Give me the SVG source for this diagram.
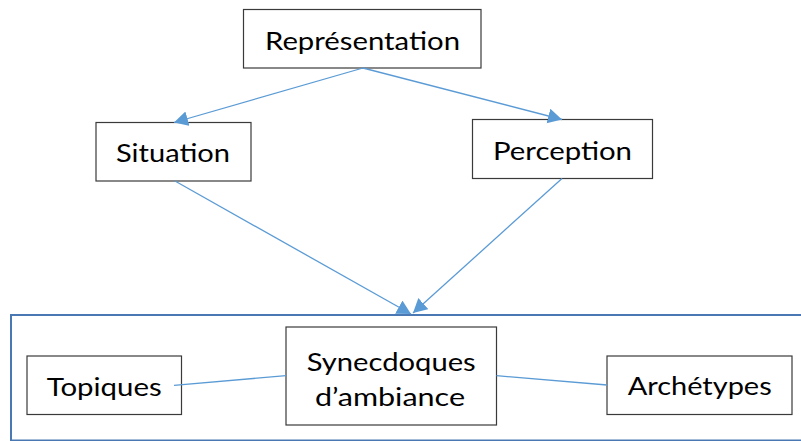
<svg xmlns="http://www.w3.org/2000/svg" width="801" height="441" viewBox="0 0 801 441">
<style>
  .box { fill: #ffffff; stroke: #3a3a3a; stroke-width: 1.2; }
  .lbl { font-family: Lato, "Open Sans", "Liberation Sans", sans-serif; font-size: 25.5px; fill: #000000; }
  .con { fill: none; stroke: #5b9bd5; stroke-width: 1.3; }
  .frame { fill: none; stroke: #4a78b2; stroke-width: 2; }
</style>
<defs>
  <marker id="arr" markerUnits="userSpaceOnUse" markerWidth="16" markerHeight="16" refX="14" refY="7.5" orient="auto" viewBox="0 0 16 16">
    <path d="M0,0 L14,7.5 L0,15 z" fill="#5b9bd5"/>
  </marker>
</defs>
<rect width="801" height="441" fill="#ffffff"/>
<g id="container">
  <rect class="frame" x="11" y="315" width="800" height="125.5"/>
</g>
<g id="representation">
  <rect class="box" x="243.5" y="9.5" width="237.5" height="58.5"/>
  <text class="lbl" x="265" y="50" textLength="195" lengthAdjust="spacingAndGlyphs">Représentation</text>
</g>
<g id="situation">
  <rect class="box" x="96" y="122.5" width="155" height="58.5"/>
  <text class="lbl" x="116" y="162" textLength="114" lengthAdjust="spacingAndGlyphs">Situation</text>
</g>
<g id="perception">
  <rect class="box" x="472.5" y="119.5" width="180" height="59"/>
  <text class="lbl" x="493" y="160" textLength="139" lengthAdjust="spacingAndGlyphs">Perception</text>
</g>
<g id="topiques">
  <rect class="box" x="27" y="356" width="154.5" height="58.5"/>
  <text class="lbl" x="46.7" y="396" textLength="115" lengthAdjust="spacingAndGlyphs">Topiques</text>
</g>
<g id="synecdoques">
  <rect class="box" x="286" y="327" width="210.5" height="98"/>
  <text class="lbl" x="306.7" y="370.5" textLength="169" lengthAdjust="spacingAndGlyphs">Synecdoques</text>
  <text class="lbl" x="315" y="406" textLength="150" lengthAdjust="spacingAndGlyphs">d’ambiance</text>
</g>
<g id="archetypes">
  <rect class="box" x="607" y="356" width="185" height="58.5"/>
  <text class="lbl" x="627.7" y="394.5" textLength="144" lengthAdjust="spacingAndGlyphs">Archétypes</text>
</g>
<g id="connectors">
  <line class="con" x1="363" y1="68" x2="174" y2="122.5" marker-end="url(#arr)"/>
  <line class="con" x1="363" y1="68" x2="562" y2="119.5" marker-end="url(#arr)"/>
  <line class="con" x1="175" y1="181" x2="411" y2="314" marker-end="url(#arr)"/>
  <line class="con" x1="562" y1="178.5" x2="413" y2="313" marker-end="url(#arr)"/>
  <line class="con" x1="174" y1="385.3" x2="286" y2="375.7"/>
  <line class="con" x1="496.5" y1="375.7" x2="607" y2="385"/>
</g>
</svg>
